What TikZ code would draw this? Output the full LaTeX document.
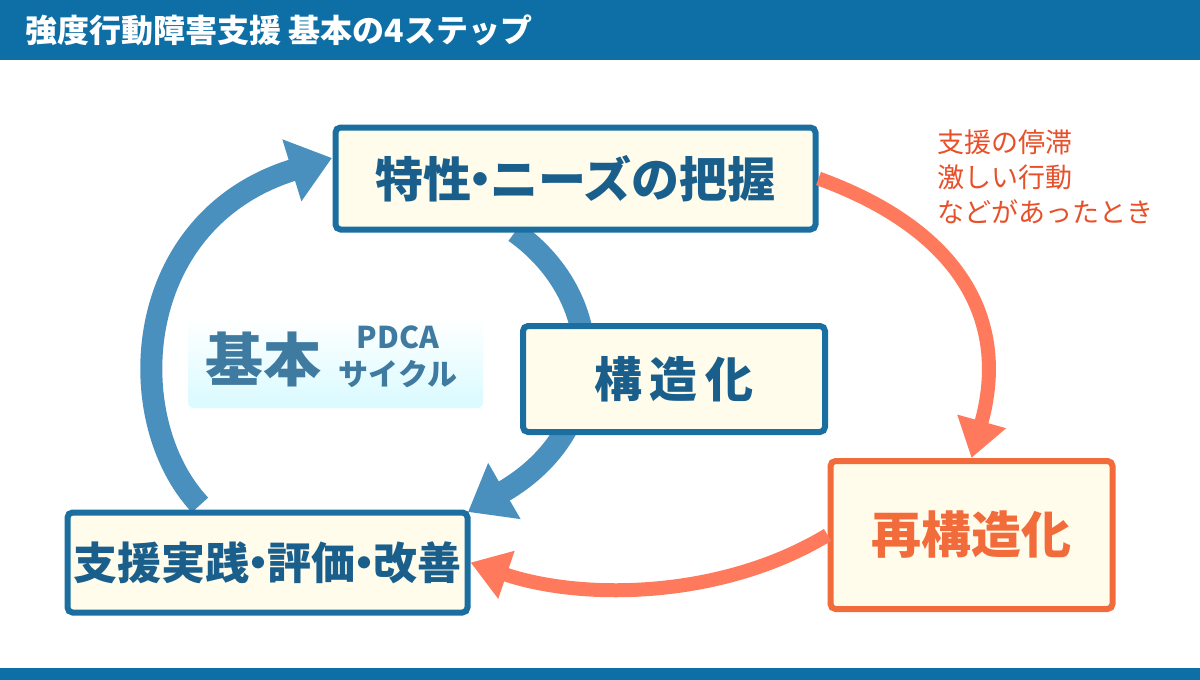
\documentclass[tikz,border=0pt]{standalone}
\usepackage{fontspec}
\setmainfont{Noto Sans CJK JP}
\usetikzlibrary{arrows.meta}
\definecolor{barblue}{HTML}{0E6FA6}
\definecolor{boxblue}{HTML}{1A6FA0}
\definecolor{arrblue}{HTML}{4A90BE}
\definecolor{arrorg}{HTML}{FF7A5C}
\definecolor{boxorg}{HTML}{F26B3A}
\definecolor{cream}{HTML}{FFFCEB}
\definecolor{txtblue}{HTML}{1A5F8C}
\definecolor{redtxt}{HTML}{E8502A}
\newcommand{\tdot}{\kern-0.3em・\kern-0.3em}
\begin{document}
\begin{tikzpicture}[x=1pt,y=-1pt,
  stepbox/.style={draw=boxblue,line width=6pt,fill=cream,rounded corners=5pt,inner sep=0pt,font=\bfseries\fontsize{48}{52}\selectfont,text=txtblue},
  bluearr/.style={draw=arrblue,line width=22pt,-{Triangle[length=42pt,width=62pt]}},
  orgarr/.style={draw=arrorg,line width=14pt,-{Triangle[length=38pt,width=48pt]}}]
\useasboundingbox (0,0) rectangle (1200,680);
\fill[white] (0,0) rectangle (1200,680);
\fill[barblue] (0,0) rectangle (1200,60);
\fill[barblue] (0,668) rectangle (1200,680);
\node[anchor=west,text=white,font=\bfseries\fontsize{32}{36}\selectfont] (title) at (22,30) {強度行動障害支援 基本の4ステップ};
\coordinate (s1) at (200,505);
\coordinate (e1) at (332,158);
\coordinate (s2) at (515,232);
\coordinate (e2) at (468,512);
\draw[bluearr] (s1) .. controls (120,420) and (130,220) .. (e1);
\draw[bluearr] (s2) .. controls (610,300) and (610,430) .. (e2);
\node[stepbox,minimum width=480pt,minimum height=102pt] (n1) at (575.5,178.5) {特性\tdot ニーズの把握};
\node[stepbox,minimum width=302pt,minimum height=106pt] (n2) at (674,379) {構\,造\,化};
\node[stepbox,minimum width=400pt,minimum height=100pt,font=\bfseries\fontsize{44}{48}\selectfont] (n3) at (267.5,562.5) {支援実践\tdot 評価\tdot 改善};
\node[stepbox,draw=boxorg,text=boxorg,minimum width=282pt,minimum height=148pt,font=\bfseries\fontsize{50}{54}\selectfont] (n4) at (971.5,535) {再構造化};
\shade[top color=white,bottom color=blue!12!cyan!15!white,rounded corners=6pt] (188,318) rectangle (483,408);
\node[font=\bfseries\fontsize{58}{62}\selectfont,text=arrblue!85!black] (k) at (263,359) {基本};
\node[font=\bfseries\fontsize{30}{30}\selectfont,text=arrblue!85!black] (p1) at (398,337) {PDCA};
\node[font=\bfseries\fontsize{30}{30}\selectfont,text=arrblue!85!black] (p2) at (398,374) {サイクル};
\draw[orgarr] (n1.east) .. controls (960,230) and (1010,320) .. (n4.north);
\draw[orgarr] (n4.west) .. controls (720,600) and (580,600) .. (n3.east);
\node[anchor=north west,text=redtxt,font=\fontsize{27}{35}\selectfont,align=left] (note) at (934,126) {支援の停滞\\激しい行動\\などがあったとき};
\end{tikzpicture}
\end{document}
